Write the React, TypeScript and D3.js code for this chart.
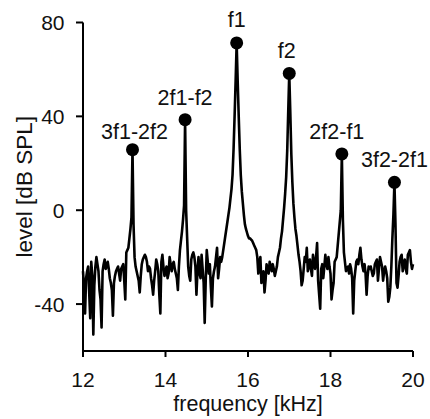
import React from "react";
import * as d3 from "d3";

// spectrum sampled every 0.025 kHz from 12 to 20 kHz (dB SPL)
const freqStart = 12;
const freqStep = 0.025;
const levels: number[] = [
  -26, -33, -44, -29, -26, -24, -35, -46, -22, -28,
  -53, -32, -24, -20, -23, -26, -34, -38, -50, -26,
  -23, -21, -25, -24, -22, -25, -29, -31, -34, -45,
  -31, -28, -26, -25, -24, -27, -30, -25, -24, -23,
  -30, -38, -18, -17, -16, -12, -8, -3, 25.8, -6,
  -20, -24, -26, -28, -30, -35, -28, -23, -21, -20,
  -19, -20, -22, -26, -24, -25, -29, -32, -36, -30,
  -26, -21, -23, -26, -36, -44, -22, -19, -24, -28,
  -26, -24, -29, -27, -20, -23, -26, -23, -22, -25,
  -27, -29, -34, -24, -17, -13, -9, -4, 2, 38.6,
  0, -12, -24, -28, -30, -21, -19, -18, -20, -24,
  -36, -26, -20, -27, -29, -19, -25, -31, -48, -30,
  -17, -22, -27, -23, -33, -41, -29, -26, -24, -20,
  -16, -29, -25, -20, -22, -20, -17, -14, -11, -8,
  -5, -2, 1, 5, 9, 15, 26, 40, 55, 71.3,
  55, 40, 26, 15, 8, 3, -2, -6, -8, -9.5,
  -11, -12, -12, -12.5, -13, -14, -15, -16, -17, -20,
  -27, -22, -20, -31, -29, -26, -35, -30, -23, -25,
  -27, -22, -24, -26, -23, -25, -28, -26, -24, -20,
  -18, -16, -12, -9, -4, 1, 7, 14, 25, 42,
  58.3, 42, 24, 12, 3, -3, -8, -11, -15, -19,
  -22, -26, -32, -30, -25, -20, -22, -16, -26, -24,
  -21, -25, -28, -19, -22, -25, -20, -14, -30, -36,
  -42, -25, -23, -29, -24, -19, -23, -25, -20, -24,
  -27, -38, -34, -31, -22, -21, -20, -15, -10, -5,
  0, 24.0, -4, -18, -22, -26, -25, -24, -27, -23,
  -25, -29, -44, -30, -26, -22, -21, -23, -19, -16,
  -21, -24, -26, -23, -27, -36, -28, -24, -25, -24,
  -26, -28, -27, -23, -22, -21, -30, -25, -20, -22,
  -24, -30, -26, -24, -26, -29, -39, -37, -33, -24,
  -12, -2, 11.9, -6, -31, -33, -28, -22, -20, -19,
  -26, -23, -21, -25, -27, -19, -18, -17, -22, -25,
  -23,
];

const peakLabels = ["3f1-2f2", "2f1-f2", "f1", "f2", "2f2-f1", "3f2-2f1"];
const peakFreqs = [13.2, 14.475, 15.725, 17.0, 18.275, 19.55];
const peakLevels = [25.8, 38.6, 71.3, 58.3, 24.0, 11.9];

const xTicks = [12, 14, 16, 18, 20];
const yTicks = [80, 40, 0, -40];

// label placement tweaks (px)
const labelDx = [2, 0, 0, -2.5, -5, 0];
const labelDy = [-10.5, -15, -16, -15.5, -15, -15];

const W = 430;
const H = 419;
const FONT = "'Liberation Sans', Arial, sans-serif";

export default function App() {
  const x = d3.scaleLinear().domain([12, 20]).range([83, 413]);
  const y = d3.scaleLinear().domain([-60, 80]).range([351, 22.5]);

  const pts: [number, number][] = levels.map((v, i) => [freqStart + i * freqStep, v]);
  const line = d3
    .line<[number, number]>()
    .x((d) => x(d[0]))
    .y((d) => y(d[1]));

  const [x0, x1] = x.range();
  const [yb, yt] = y.range();

  return (
    <svg
      width={W}
      height={H}
      style={{ position: "absolute", left: 0, top: 0, display: "block", background: "#fff" }}
    >
      {/* spectrum */}
      <path d={line(pts) || ""} fill="none" stroke="#000" strokeWidth={2.6} strokeLinejoin="round" />

      {/* peak markers */}
      {peakFreqs.map((f, i) => (
        <circle key={"c" + i} cx={x(f)} cy={y(peakLevels[i])} r={6.5} fill="#000" />
      ))}
      {peakFreqs.map((f, i) => (
        <text
          key={"l" + i}
          x={x(f) + labelDx[i]}
          y={y(peakLevels[i]) + labelDy[i]}
          textAnchor="middle"
          fontFamily={FONT}
          fontSize={21.5}
          fill="#111"
        >
          {peakLabels[i]}
        </text>
      ))}

      {/* y axis */}
      <line x1={x0} x2={x0} y1={yt} y2={yb} stroke="#000" strokeWidth={2} />
      {yTicks.map((t) => (
        <g key={"y" + t}>
          <line x1={x0 - 7} x2={x0} y1={y(t)} y2={y(t)} stroke="#000" strokeWidth={2} />
          <text
            x={64.5}
            y={y(t)}
            dy="0.36em"
            textAnchor="end"
            fontFamily={FONT}
            fontSize={21}
            fill="#111"
          >
            {t}
          </text>
        </g>
      ))}

      {/* x axis */}
      <line x1={x0} x2={x1} y1={yb} y2={yb} stroke="#000" strokeWidth={2} />
      {xTicks.map((t) => (
        <g key={"x" + t}>
          <line x1={x(t)} x2={x(t)} y1={yb} y2={yb + 6} stroke="#000" strokeWidth={2} />
          <text x={x(t)} y={387} textAnchor="middle" fontFamily={FONT} fontSize={21} fill="#111">
            {t}
          </text>
        </g>
      ))}

      {/* axis titles */}
      <text x={(x0 + x1) / 2} y={411} textAnchor="middle" fontFamily={FONT} fontSize={21.5} fill="#111">
        frequency [kHz]
      </text>
      <text
        transform={`translate(31.5, ${(yt + yb) / 2}) rotate(-90)`}
        textAnchor="middle"
        fontFamily={FONT}
        fontSize={22.5}
        fill="#111"
      >
        level [dB SPL]
      </text>
    </svg>
  );
}
